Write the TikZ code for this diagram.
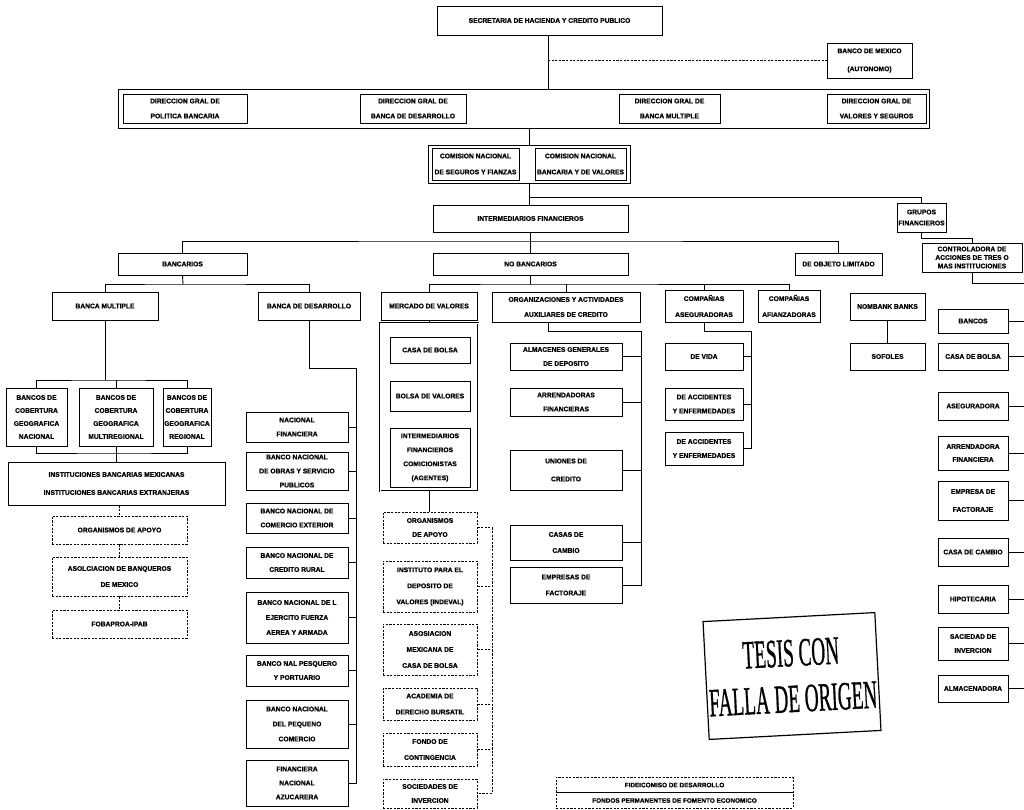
\documentclass[tikz,border=0pt]{standalone}
\usepackage{fontspec}
\setmainfont{Liberation Sans}
\newfontfamily\boxfont{Liberation Sans}[FakeBold=0.8]
\newfontfamily\stampfont{Liberation Serif}[FakeBold=1.0]
\newcommand\mybx[7][]{\node[box,#1,minimum width={(#5-#3)*1pt},minimum height={(#6-#4)*1pt}] (#2) at ({(#3+#5)/2},{(#4+#6)/2}) {#7};}
\begin{document}
\begin{tikzpicture}[x=1pt,y=-1pt,
  box/.style={draw, line width=0.9pt, inner sep=0pt, align=center, font=\boxfont\fontsize{6.7}{14}\selectfont\bfseries},
  ls/.style={font=\boxfont\fontsize{6.7}{#1}\selectfont\bfseries},
  dbox/.style={box, dash pattern=on 2.2pt off 1.4pt},
  conn/.style={line width=0.9pt},
  dconn/.style={line width=0.9pt, dash pattern=on 2.2pt off 1.4pt}]
\useasboundingbox[fill=white] (0,0) rectangle (1024,809);
% top
\mybx{shcp}{437}{6}{662}{35}{SECRETARIA DE HACIENDA Y CREDITO PUBLICO}
\mybx[ls=18]{banxico}{827}{43}{912}{78}{BANCO DE MEXICO\\(AUTONOMO)}
\mybx{dirs}{118}{89}{929}{128}{}
\mybx[ls=15]{dpb}{123}{94}{247}{123}{DIRECCION GRAL DE\\POLITICA BANCARIA}
\mybx[ls=15]{dbd}{360}{94}{466}{123}{DIRECCION GRAL DE\\BANCA DE DESARROLLO}
\mybx[ls=15]{dbm}{619}{94}{720}{123}{DIRECCION GRAL DE\\BANCA MULTIPLE}
\mybx[ls=15]{dvs}{827}{94}{926}{123}{DIRECCION GRAL DE\\VALORES Y SEGUROS}
\mybx{com}{428}{145}{630}{183}{}
\mybx[ls=16]{cnsf}{432}{148}{519}{180}{COMISION NACIONAL\\DE SEGUROS Y FIANZAS}
\mybx[ls=16]{cnbv}{535}{148}{626}{180}{COMISION NACIONAL\\BANCARIA Y DE VALORES}
\mybx{inter}{433}{205}{628}{232}{INTERMEDIARIOS FINANCIEROS}
\mybx[ls=11]{grupos}{897}{203}{946}{232}{GRUPOS\\FINANCIEROS}
\mybx[ls=8.5]{contr}{922}{243}{1022}{272}{CONTROLADORA DE\\ACCIONES DE TRES O\\MAS INSTITUCIONES}
\mybx{banc}{118}{253}{247}{275}{BANCARIOS}
\mybx{nobanc}{433}{253}{628}{275}{NO BANCARIOS}
\mybx{dol}{795}{253}{882}{275}{DE OBJETO LIMITADO}
% row 3
\mybx{bmul}{52}{292}{158}{320}{BANCA MULTIPLE}
\mybx{bdes}{258}{292}{360}{320}{BANCA DE DESARROLLO}
\mybx{merc}{381}{292}{477}{320}{MERCADO DE VALORES}
\mybx[ls=15]{org}{492}{292}{640}{322}{ORGANIZACIONES Y ACTIVIDADES\\AUXILIARES DE CREDITO}
\mybx[ls=16]{aseg}{665}{290}{743}{322}{COMPAÑIAS\\ASEGURADORAS}
\mybx[ls=16]{afi}{758}{290}{820}{322}{COMPAÑIAS\\AFIANZADORAS}
\mybx{nomb}{850}{293}{925}{320}{NOMBANK BANKS}
\mybx{sof}{850}{343}{925}{370}{SOFOLES}
% left branch
\mybx[ls=13]{bc1}{6}{388}{67}{446}{BANCOS DE\\COBERTURA\\GEOGRAFICA\\NACIONAL}
\mybx[ls=13]{bc2}{79}{388}{153}{446}{BANCOS DE\\COBERTURA\\GEOGRAFICA\\MULTIREGIONAL}
\mybx[ls=13]{bc3}{163}{388}{211}{446}{BANCOS DE\\COBERTURA\\GEOGRAFICA\\REGIONAL}
\mybx[ls=18]{inst}{8}{462}{225}{505}{INSTITUCIONES BANCARIAS MEXICANAS\\INSTITUCIONES BANCARIAS EXTRANJERAS}
\mybx[dbox]{oapo}{52}{516}{187}{544}{ORGANISMOS DE APOYO}
\mybx[dbox,ls=16]{abm}{52}{557}{187}{596}{ASOLCIACION DE BANQUEROS\\DE MEXICO}
\mybx[dbox]{fob}{52}{610}{187}{638}{FOBAPROA-IPAB}
% banca de desarrollo column
\mybx{nf}{246}{412}{348}{442}{NACIONAL\\FINANCIERA}
\mybx{bno}{246}{452}{348}{490}{BANCO NACIONAL\\DE OBRAS Y SERVICIO\\PUBLICOS}
\mybx{bce}{246}{503}{348}{533}{BANCO NACIONAL DE\\COMERCIO EXTERIOR}
\mybx{bcr}{246}{547}{348}{578}{BANCO NACIONAL DE\\CREDITO RURAL}
\mybx[ls=15]{bej}{246}{592}{348}{643}{BANCO NACIONAL DE L\\EJERCITO FUERZA\\AEREA Y ARMADA}
\mybx{bpe}{246}{655}{348}{686}{BANCO NAL PESQUERO\\Y PORTUARIO}
\mybx[ls=15]{bpc}{246}{700}{348}{748}{BANCO NACIONAL\\DEL PEQUENO\\COMERCIO}
\mybx{fna}{246}{760}{348}{806}{FINANCIERA\\NACIONAL\\AZUCARERA}
% mercado de valores column
\mybx[double, double distance=0.8pt, line width=0.6pt]{mout}{380}{323}{478}{491}{}
\mybx{cb}{390}{337}{470}{363}{CASA DE BOLSA}
\mybx{bv}{390}{381}{470}{411}{BOLSA DE VALORES}
\mybx{ifc}{390}{428}{470}{487}{INTERMEDIARIOS\\FINANCIEROS\\COMICIONISTAS\\(AGENTES)}
\mybx[dbox]{doa}{383}{512}{477}{543}{ORGANISMOS\\DE APOYO}
\mybx[dbox,ls=16]{din}{383}{561}{477}{612}{INSTITUTO PARA EL\\DEPOSITO DE\\VALORES (INDEVAL)}
\mybx[dbox,ls=16]{das}{383}{624}{477}{675}{ASOSIACION\\MEXICANA DE\\CASA DE BOLSA}
\mybx[dbox,ls=16]{dac}{383}{688}{477}{720}{ACADEMIA DE\\DERECHO BURSATIL}
\mybx[dbox,ls=16]{dfo}{383}{733}{477}{766}{FONDO DE\\CONTINGENCIA}
\mybx[dbox]{dso}{383}{779}{477}{808}{SOCIEDADES DE\\INVERCION}
% organizaciones column
\mybx{alm}{510}{343}{622}{370}{ALMACENES GENERALES\\DE DEPOSITO}
\mybx{arr}{510}{388}{622}{416}{ARRENDADORAS\\FINANCIERAS}
\mybx[ls=18]{uni}{510}{450}{622}{490}{UNIONES DE\\CREDITO}
\mybx[ls=16]{cca}{510}{525}{622}{560}{CASAS DE\\CAMBIO}
\mybx[ls=16]{efa}{510}{567}{622}{603}{EMPRESAS DE\\FACTORAJE}
% aseguradoras children
\mybx{vid}{665}{343}{743}{370}{DE VIDA}
\mybx{ac1}{665}{388}{743}{420}{DE ACCIDENTES\\Y ENFERMEDADES}
\mybx{ac2}{665}{432}{743}{465}{DE ACCIDENTES\\Y ENFERMEDADES}
% grupos column
\mybx{gb}{938}{309}{1008}{333}{BANCOS}
\mybx{gcb}{938}{343}{1008}{370}{CASA DE BOLSA}
\mybx{gas}{938}{392}{1008}{420}{ASEGURADORA}
\mybx[ls=13]{gar}{938}{436}{1008}{470}{ARRENDADORA\\FINANCIERA}
\mybx[ls=18]{gem}{938}{481}{1008}{520}{EMPRESA DE\\FACTORAJE}
\mybx{gcc}{938}{538}{1008}{566}{CASA DE CAMBIO}
\mybx{ghi}{938}{585}{1008}{613}{HIPOTECARIA}
\mybx{gsi}{938}{627}{1008}{660}{SACIEDAD DE\\INVERCION}
\mybx{gal}{938}{675}{1008}{702}{ALMACENADORA}
% stamp
\node[draw, line width=1.2pt, rotate=3, minimum width=172pt, minimum height=118pt, inner sep=0pt, align=center,
  font=\stampfont\fontsize{40}{46}\selectfont] (stamp) at (792,676)
  {\scalebox{0.48}[1]{TESIS CON}\\\scalebox{0.48}[1]{FALLA DE ORIGEN}};
% fideicomiso
\mybx[dbox]{fid}{556}{777}{793}{808}{}
\node[font=\boxfont\fontsize{6.4}{7}\selectfont\bfseries] (fidt) at (674.5,785) {FIDEICOMISO DE DESARROLLO};
\node[font=\boxfont\fontsize{6.4}{7}\selectfont\bfseries] (fidb) at (674.5,800.5) {FONDOS PERMANENTES DE FOMENTO ECONOMICO};
\draw[conn] (fid.west) -- (fid.east);
% ---- connectors
\coordinate (sx) at (548,0);
\draw[conn] (shcp.south -| sx) -- (dirs.north -| sx);
\draw[dconn] (banxico.west -| sx) -- (banxico.west);
\draw[conn] (dirs.south -| com.north) -- (com.north);
\draw[conn] (com.south) -- (com.south |- inter.north);
\coordinate (gj) at (529,197);
\draw[conn] (gj) -| (grupos.north);
\coordinate (gcj) at (972,238);
\draw[conn] (grupos.south) |- (gcj) -- (contr.north);
\coordinate (ij) at (530,241);
\draw[conn] (inter.south) -- (inter.south |- nobanc.north);
\draw[conn] (banc.north) |- (ij) -| (dol.north);
\coordinate (nj) at (530,284);
\draw[conn] (nobanc.south) -- (nobanc.south |- nj);
\draw[conn] (merc.north) |- (nj) -| (afi.north);
\draw[conn] (org.north) -- (org.north |- nj);
\draw[conn] (aseg.north) -- (aseg.north |- nj);
\coordinate (bcj) at (183,284);
\draw[conn] (banc.south) -- (bcj);
\draw[conn] (bmul.north) |- (bcj) -| (bdes.north);
\coordinate (bmj) at (105,380);
\draw[conn] (bmul.south) -- (bmj);
\draw[conn] (bc1.north) |- (bmj) -| (bc3.north);
\draw[conn] (bc2.north) -- (bc2.north |- bmj);
\coordinate (bbj) at (116,453);
\draw[conn] (bc1.south) |- (bbj) -| (bc3.south);
\draw[conn] (bc2.south) -- (bc2.south |- bbj);
\draw[conn] (bbj) -- (inst.north -| bbj);
\draw[dconn] (inst.south -| oapo.north) -- (oapo.north);
\draw[dconn] (oapo.south) -- (abm.north);
\draw[dconn] (abm.south) -- (fob.north);
\coordinate (bdsp) at (356,368);
\draw[conn] (bdes.south) |- (bdsp) |- (fna.east);
\foreach \n in {nf,bno,bce,bcr,bej,bpe,bpc} \draw[conn] (\n.east) -- (\n.east -| bdsp);
\draw[conn] (merc.south) -- (merc.south |- mout.north);
\draw[conn] (mout.south) -- (mout.south |- doa.north);
\coordinate (msp) at (492,512);
\draw[dconn] (doa.east) -- (doa.east -| msp) |- (dso.east);
\foreach \n in {din,das,dac,dfo} \draw[dconn] (\n.east) -- (\n.east -| msp);
\coordinate (orgj) at (548,331);
\coordinate (orgsp) at (641,331);
\draw[conn] (org.south -| orgj) |- (orgsp) |- (efa.east);
\foreach \n in {alm,arr,uni,cca} \draw[conn] (\n.east) -- (\n.east -| orgsp);
\coordinate (asp) at (751,331);
\draw[conn] (aseg.south) |- (asp) |- (ac2.east);
\foreach \n in {vid,ac1} \draw[conn] (\n.east) -- (\n.east -| asp);
\draw[conn] (nomb.south) -- (sof.north);
\coordinate (csp) at (1024,283);
\draw[conn] (contr.south) |- (csp);
\foreach \n in {gb,gcb,gas,gar,gem,gcc,ghi,gsi,gal} {\coordinate (\n e) at (1024,0); \draw[conn] (\n.east) -- (\n.east -| \n e);}
\end{tikzpicture}
\end{document}
